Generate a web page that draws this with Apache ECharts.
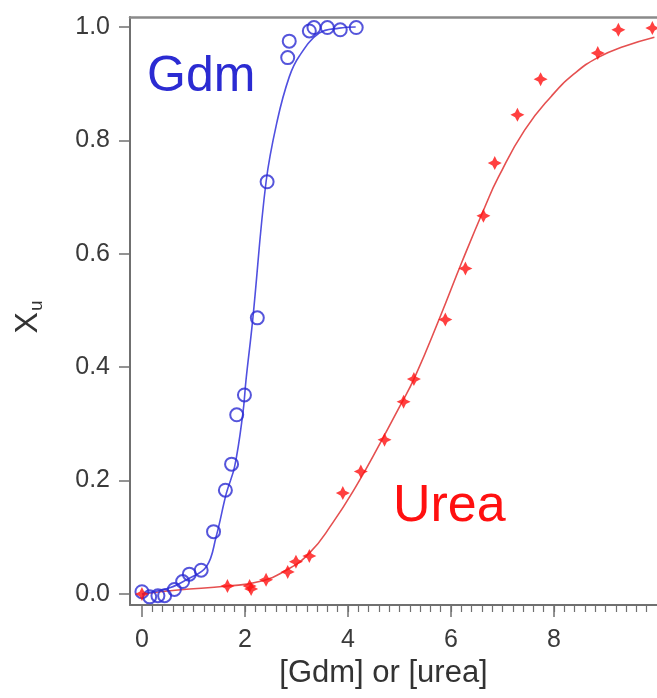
<!DOCTYPE html>
<html>
<head>
<meta charset="utf-8">
<script src="https://cdn.jsdelivr.net/npm/echarts@6/dist/echarts.min.js"></script>
<style>
  html, body { margin: 0; padding: 0; background: #ffffff; }
  #chart { width: 657px; height: 698px; }
</style>
</head>
<body>
<div id="chart"></div>
<script>
// ---- data ----
const gdmX = [0.0, 0.15, 0.31, 0.44, 0.63, 0.79, 0.92, 1.15, 1.39, 1.62, 1.74, 1.84, 1.99, 2.24, 2.43, 2.83, 2.86, 3.25, 3.34, 3.6, 3.85, 4.16];
const gdmY = [0.004, -0.005, -0.003, -0.003, 0.008, 0.022, 0.035, 0.042, 0.11, 0.183, 0.229, 0.316, 0.351, 0.487, 0.727, 0.946, 0.975, 0.993, 0.999, 0.999, 0.995, 0.999];

const ureaX = [0.0, 1.66, 2.09, 2.12, 2.41, 2.83, 2.99, 3.25, 3.9, 4.25, 4.71, 5.08, 5.28, 5.89, 6.28, 6.63, 6.85, 7.29, 7.74, 8.85, 9.25, 9.91];
const ureaY = [0.0, 0.014, 0.014, 0.009, 0.025, 0.039, 0.057, 0.067, 0.178, 0.216, 0.272, 0.339, 0.379, 0.484, 0.574, 0.667, 0.76, 0.845, 0.908, 0.954, 0.995, 0.998];

const gdmFitX = [0, 0.54, 0.86, 1.25, 1.44, 1.64, 1.80, 1.96, 2.02, 2.15, 2.41, 2.63, 2.86, 3.05, 3.44, 3.83, 4.15];
const gdmFitY = [0.0, 0.011, 0.025, 0.048, 0.101, 0.178, 0.225, 0.319, 0.377, 0.483, 0.727, 0.836, 0.912, 0.948, 0.989, 0.998, 1.0];

const ureaFitX = [0, 0.7, 1.66, 2.28, 2.8, 3.25, 3.7, 4.15, 4.66, 5.0, 5.3, 5.79, 6.21, 6.66, 6.92, 7.43, 7.95, 8.4, 8.85, 9.37, 9.95];
const ureaFitY = [0.0, 0.007, 0.014, 0.022, 0.042, 0.072, 0.125, 0.189, 0.272, 0.33, 0.383, 0.489, 0.585, 0.683, 0.735, 0.818, 0.878, 0.918, 0.946, 0.966, 0.982];

const xMajorTicks = [0, 2, 4, 6, 8];
const yTicks = [0, 0.2, 0.4, 0.6, 0.8, 1.0];
const xMinorStep = 0.2;

// ---- helpers ----
const zip = (xs, ys) => xs.map((x, i) => [x, ys[i]]);
const xMinorTicks = [];
for (let k = 1; k <= 49; k++) xMinorTicks.push(+(k * xMinorStep).toFixed(1));

const FONT = '"Liberation Sans", Arial, sans-serif';
const BLUE = '#2b2bd2';
const RED = '#ff1010';
const AX = '#707070';
const starPath = 'path://M0,-6 L2,-2 L6,0 L2,2 L0,6 L-2,2 L-6,0 L-2,-2 Z';

const chart = echarts.init(document.getElementById('chart'), null, { renderer: 'canvas' });

const xCommon = { type: 'value', min: -0.232, max: 10.0 };

chart.setOption({
  animation: false,
  backgroundColor: '#ffffff',
  grid: { left: 130, top: 17, width: 530, height: 588, show: false },
  xAxis: [
    Object.assign({}, xCommon, {
      position: 'bottom',
      name: '[Gdm] or [urea]',
      nameLocation: 'middle',
      nameGap: 50,
      nameTextStyle: { fontFamily: FONT, fontSize: 31, color: '#333333', padding: [0, 20, 0, 0] },
      axisLine: { show: true, onZero: false, lineStyle: { color: AX, width: 2 } },
      axisTick: { show: true, inside: false, length: 12, customValues: xMajorTicks, lineStyle: { color: AX, width: 1.5 } },
      axisLabel: { show: true, margin: 23, customValues: xMajorTicks, fontFamily: FONT, fontSize: 25, color: '#3a3a3a' },
      splitLine: { show: false }
    }),
    Object.assign({}, xCommon, {
      position: 'bottom',
      axisLine: { show: false, onZero: false },
      axisTick: { show: true, inside: false, length: 7, customValues: xMinorTicks, lineStyle: { color: AX, width: 1.2 } },
      axisLabel: { show: false },
      splitLine: { show: false }
    }),
    Object.assign({}, xCommon, {
      position: 'top',
      axisLine: { show: true, onZero: false, lineStyle: { color: '#8a8a8a', width: 2.5 } },
      axisTick: { show: false },
      axisLabel: { show: false },
      splitLine: { show: false }
    })
  ],
  yAxis: {
    type: 'value', min: -0.0194, max: 1.0176,
    name: '{a|X}{b|u}',
    nameLocation: 'middle',
    nameRotate: 90,
    nameGap: 84,
    nameTextStyle: {
      fontFamily: FONT, color: '#333333', padding: [0, 12, 0, 0],
      rich: {
        a: { fontFamily: FONT, fontSize: 32, color: '#333333', lineHeight: 36 },
        b: { fontFamily: FONT, fontSize: 19, color: '#333333', lineHeight: 36, verticalAlign: 'bottom', padding: [16, 0, 0, 1] }
      }
    },
    axisLine: { show: true, onZero: false, lineStyle: { color: AX, width: 2 } },
    axisTick: { show: true, inside: false, length: 11, customValues: yTicks, lineStyle: { color: AX, width: 1.5 } },
    axisLabel: {
      show: true, margin: 20, customValues: yTicks,
      formatter: v => v.toFixed(1),
      fontFamily: FONT, fontSize: 25, color: '#3a3a3a'
    },
    splitLine: { show: false }
  },
  graphic: [
    { type: 'text', left: 147, top: 52, silent: true,
      style: { text: 'Gdm', fill: BLUE, font: '50px "Liberation Sans", Arial, sans-serif' } },
    { type: 'text', left: 393, top: 481, silent: true,
      style: { text: 'Urea', fill: RED, font: '52px "Liberation Sans", Arial, sans-serif' } }
  ],
  series: [
    {
      name: 'Urea fit', type: 'line', xAxisIndex: 0, data: zip(ureaFitX, ureaFitY),
      smooth: 0.5, showSymbol: false, symbol: 'none',
      lineStyle: { color: '#e55050', width: 1.6 }, z: 2
    },
    {
      name: 'Gdm fit', type: 'line', xAxisIndex: 0, data: zip(gdmFitX, gdmFitY),
      smooth: 0.4, showSymbol: false, symbol: 'none',
      lineStyle: { color: '#5050e0', width: 1.6 }, z: 2
    },
    {
      name: 'Gdm', type: 'scatter', xAxisIndex: 0, data: zip(gdmX, gdmY),
      symbol: 'circle', symbolSize: 13,
      itemStyle: { color: 'transparent', borderColor: BLUE, borderWidth: 2 }, z: 3
    },
    {
      name: 'Urea', type: 'scatter', xAxisIndex: 0, data: zip(ureaX, ureaY),
      symbol: starPath, symbolSize: 14,
      itemStyle: { color: RED }, z: 4
    }
  ]
});
</script>
</body>
</html>
